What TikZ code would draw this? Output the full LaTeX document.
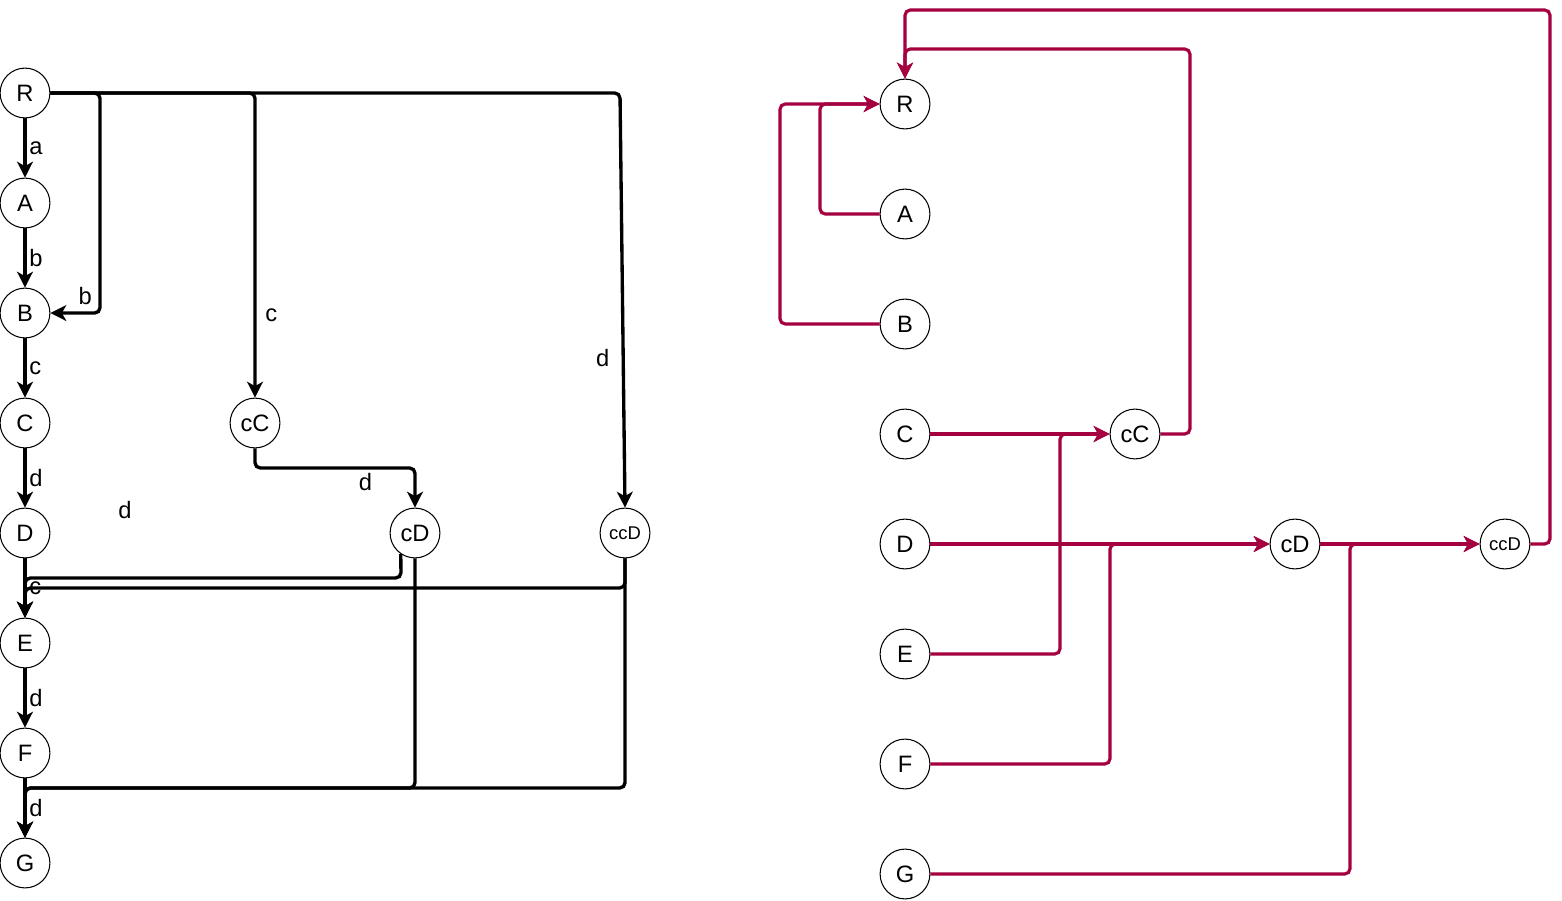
\documentclass[tikz,border=0pt]{standalone}
\usepackage{fontspec}
\setmainfont{Liberation Sans}
\usepackage{tikz}
\usetikzlibrary{arrows.meta, positioning, calc}
\definecolor{custom_crimson}{RGB}{165, 0, 64}

\begin{document}
\begin{tikzpicture}[
        x=0.02cm, y=-0.02cm,
        font=\fontsize{13.5}{15}\selectfont,
        every node/.style={inner sep=2pt},
        stato/.style={circle, draw, line width=0.6pt, minimum size=50*0.567pt, inner sep=0pt},
        nero/.style={-{Stealth[length=9pt, width=9pt, inset=2.5pt]}, line width=1.9pt, rounded corners=3pt},
        rosso/.style={-{Stealth[length=9pt, width=9pt, inset=2.5pt]}, line width=1.8pt, rounded corners=3pt, custom_crimson}
    ]
        \useasboundingbox (0, 0) rectangle (1562, 900);

        % -------- Automa di sinistra --------
        \node[stato] (lR) at (25, 93) {R};
        \node[stato] (lA) at (25, 203) {A};
        \node[stato] (lB) at (25, 313) {B};
        \node[stato] (lC) at (25, 423) {C};
        \node[stato] (lD) at (25, 533) {D};
        \node[stato] (lE) at (25, 643) {E};
        \node[stato] (lF) at (25, 753) {F};
        \node[stato] (lG) at (25, 863) {G};
        \node[stato] (lcC) at (255, 423) {cC};
        \node[stato] (lcD) at (415, 533) {cD};
        \node[stato, font=\fontsize{10.5}{12}\selectfont] (lccD) at (625, 533) {ccD};

        % catena principale
        \draw[nero] (lR) -- node[midway, right=-0.5pt] {a} (lA);
        \draw[nero] (lA) -- node[midway, right=-0.5pt] {b} (lB);
        \draw[nero] (lB) -- node[midway, right=-0.5pt] {c} (lC);
        \draw[nero] (lC) -- node[midway, right=-0.5pt] {d} (lD);
        \draw[nero] (lD) -- node[midway, right=-0.5pt] {c} (lE);
        \draw[nero] (lE) -- node[midway, right=-0.5pt] {d} (lF);
        \draw[nero] (lF) -- node[midway, right=-0.5pt] {d} (lG);

        % salti da R
        \draw[nero] (lR.east) -- (100, 93) -- (100, 313) -- node[pos=0.3, above=2pt] {b} (lB.east);
        \draw[nero] (lR.east) -- (255, 93) -- node[pos=0.73, right=3pt] {c} (lcC.north);
        \draw[nero] (lR.east) -- (620, 93) -- node[pos=0.64, left=5pt] {d} (lccD.north);

        % rami laterali
        \draw[nero] (lcC.south) -- (255, 468) -- node[pos=0.69, below] {d} (415, 468) -- (lcD.north);
        \node (fd) at (125, 510) {d};
        \draw[nero] (lcD.-124) -- (401, 578) -- (25, 578) -- (lE.north);
        \draw[nero] (lccD.south) -- (625, 588) -- (25, 588) -- (lE.north);
        \draw[nero] (lcD.south) -- (415, 788) -- (25, 788) -- (lG.north);
        \draw[nero] (lccD.south) -- (625, 788) -- (25, 788) -- (lG.north);

        % -------- Automa di destra (archi inversi) --------
        \node[stato] (rR) at (905, 104) {R};
        \node[stato] (rA) at (905, 214) {A};
        \node[stato] (rB) at (905, 324) {B};
        \node[stato] (rC) at (905, 434) {C};
        \node[stato] (rD) at (905, 544) {D};
        \node[stato] (rE) at (905, 654) {E};
        \node[stato] (rF) at (905, 764) {F};
        \node[stato] (rG) at (905, 874) {G};
        \node[stato] (rcC) at (1135, 434) {cC};
        \node[stato] (rcD) at (1295, 544) {cD};
        \node[stato, font=\fontsize{10.5}{12}\selectfont] (rccD) at (1505, 544) {ccD};

        \draw[rosso] (rA.west) -- (820, 214) -- (820, 104) -- (rR.west);
        \draw[rosso] (rB.west) -- (780, 324) -- (780, 104) -- (rR.west);
        \draw[rosso] (rcC.east) -- (1190, 434) -- (1190, 49) -- (905, 49) -- (rR.north);
        \draw[rosso] (rccD.east) -- (1550, 544) -- (1550, 10) -- (905, 10) -- (rR.north);

        \draw[rosso] (rC) -- (rcC);
        \draw[rosso] (rE.east) -- (1060, 654) -- (1060, 434) -- (rcC.west);
        \draw[rosso] (rD) -- (rcD);
        \draw[rosso] (rF.east) -- (1110, 764) -- (1110, 544) -- (rcD.west);
        \draw[rosso] (rcD) -- (rccD);
        \draw[rosso] (rG.east) -- (1350, 874) -- (1350, 544) -- (rccD.west);

    \end{tikzpicture}
\end{document}
